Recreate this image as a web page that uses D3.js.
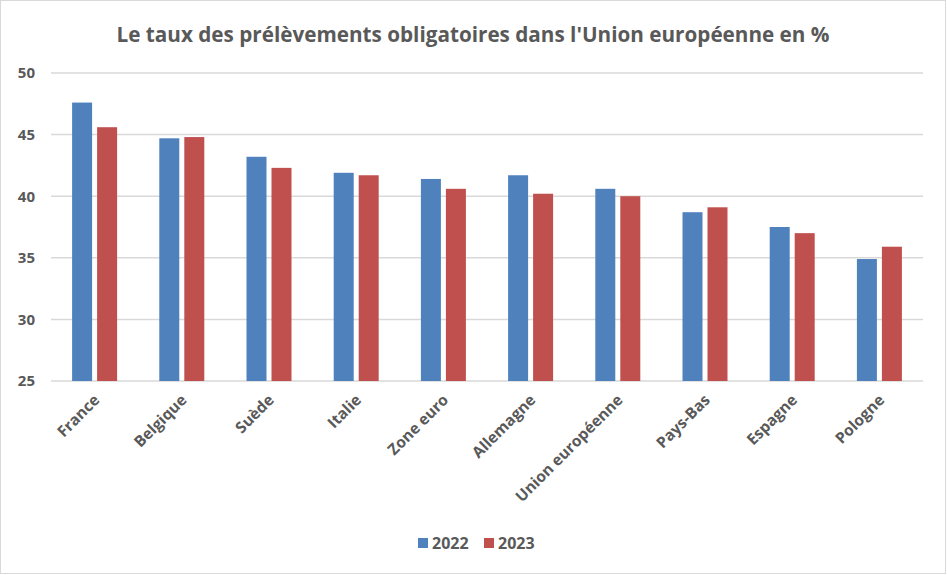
<!DOCTYPE html>
<html>
<head>
<meta charset="utf-8">
<script src="https://cdn.jsdelivr.net/npm/d3@7"></script>
<style>
  html, body { margin: 0; padding: 0; background: #fff; }
  svg text { font-family: 'Open Sans', 'Noto Sans', sans-serif; font-weight: bold; fill: #595959; }
</style>
</head>
<body>
<svg id="chart" width="947" height="575"></svg>
<script>
'use strict'

// Values
const countries = ['France', 'Belgique', 'Suède', 'Italie', 'Zone euro', 'Allemagne',
  'Union européenne', 'Pays-Bas', 'Espagne', 'Pologne']
const years = ['2022', '2023']
const values2022 = [47.6, 44.7, 43.2, 41.9, 41.4, 41.7, 40.6, 38.7, 37.5, 34.9]
const values2023 = [45.6, 44.8, 42.3, 41.7, 40.6, 40.2, 40.0, 39.1, 37.0, 35.9]
const yTicks = [25, 30, 35, 40, 45, 50]

const colors = {'2022': '#4F81BD', '2023': '#C0504D'}
const W = 947, H = 575
const margin = {top: 73, right: 24, bottom: 194, left: 51}

const svg = d3.select('#chart')

// outer frame
svg.append('rect')
  .attr('x', 0.5).attr('y', 0.5)
  .attr('width', W - 2).attr('height', H - 2)
  .attr('fill', '#fff').attr('stroke', '#d9d9d9')

const title = svg.append('text')
  .attr('x', 473).attr('y', 42)
  .attr('text-anchor', 'middle')
  .style('font-size', '20px')
  .text("Le taux des prélèvements obligatoires dans l'Union européenne en %")
// squeeze the title to the width it has in the reference
const tw = title.node().getComputedTextLength()
title.style('font-size', (20 * 713 / tw).toFixed(2) + 'px')

const x = d3.scaleBand()
  .domain(countries)
  .range([margin.left, W - margin.right])

const y = d3.scaleLinear()
  .domain([25, 50])
  .range([H - margin.bottom, margin.top])

// grid lines
svg.append('g')
  .selectAll('line')
  .data(yTicks)
  .enter().append('line')
  .attr('x1', margin.left).attr('x2', W - margin.right)
  .attr('y1', (d) => y(d)).attr('y2', (d) => y(d))
  .attr('stroke', '#d9d9d9')
  .attr('stroke-width', 1.5)

// y axis labels
const yAxis = d3.axisLeft(y).tickValues(yTicks).tickSize(0).tickPadding(16)
const gy = svg.append('g')
  .attr('transform', 'translate(' + margin.left + ',0)')
  .call(yAxis)
gy.select('.domain').remove()
gy.selectAll('text')
  .style('font-size', '15px')
  .style('font-family', null)
  .attr('fill', null)

// bars
const barW = 20, gap = 5
const xSub = d3.scaleOrdinal()
  .domain(years)
  .range([-(barW + gap / 2), gap / 2])

const series = years.map((yr, i) => ({
  year: yr,
  values: (i === 0 ? values2022 : values2023).map((v, j) => ({country: countries[j], value: v}))
}))

svg.append('g')
  .selectAll('g')
  .data(series)
  .enter().append('g')
  .attr('fill', (d) => colors[d.year])
  .selectAll('rect')
  .data((d) => d.values.map((v) => Object.assign({year: d.year}, v)))
  .enter().append('rect')
  .attr('x', (d) => x(d.country) + x.bandwidth() / 2 + xSub(d.year))
  .attr('y', (d) => y(d.value))
  .attr('width', barW)
  .attr('height', (d) => y(25) - y(d.value))

// x axis labels, rotated
const xAxis = d3.axisBottom(x).tickSize(0).tickPadding(0)
const gx = svg.append('g')
  .attr('transform', 'translate(0,' + (H - margin.bottom) + ')')
  .call(xAxis)
gx.select('.domain').remove()
gx.selectAll('text')
  .style('font-size', '15.5px')
  .style('font-family', null)
  .attr('fill', null)
  .attr('text-anchor', 'end')
  .attr('dy', null)
  .attr('y', 0)
  .attr('transform', 'translate(6,20) rotate(-45)')

// legend
const legend = svg.append('g')
  .attr('transform', 'translate(418,538)')
const item = legend.selectAll('g')
  .data(years)
  .enter().append('g')
  .attr('transform', (d, i) => 'translate(' + (i * 66) + ',0)')
item.append('rect')
  .attr('width', 10).attr('height', 10)
  .attr('fill', (d) => colors[d])
item.append('text')
  .attr('x', 14).attr('y', 11)
  .style('font-size', '16px')
  .text((d) => d)
</script>
</body>
</html>
